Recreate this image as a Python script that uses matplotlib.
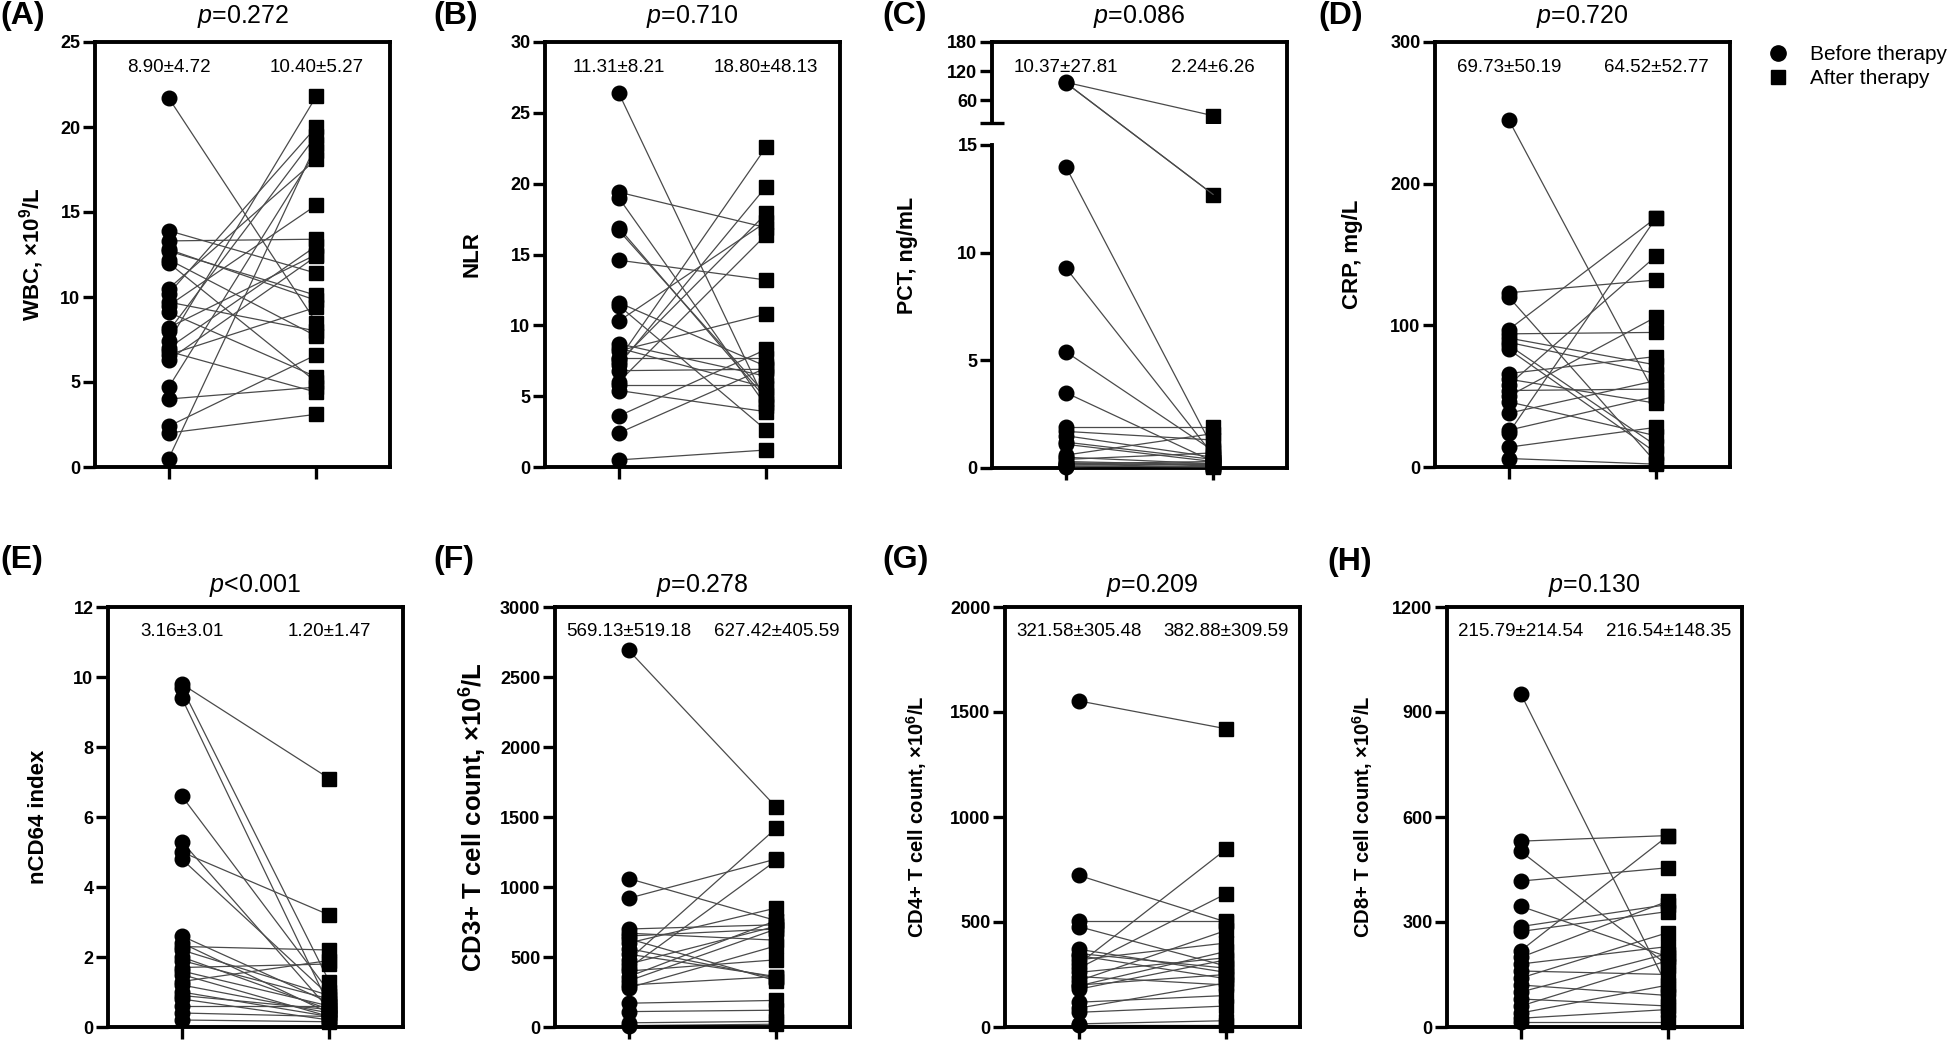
import matplotlib
matplotlib.use("Agg")
import matplotlib.pyplot as plt
from matplotlib.lines import Line2D
from matplotlib.patches import ConnectionPatch

plt.rcParams['font.family'] = ['Liberation Sans', 'DejaVu Sans']
plt.rcParams['mathtext.fontset'] = 'custom'
plt.rcParams['mathtext.rm'] = 'Liberation Sans'
plt.rcParams['mathtext.it'] = 'Liberation Sans:italic'
plt.rcParams['mathtext.bf'] = 'Liberation Sans:bold'

# ---- data ----
wbc_before = [21.7, 13.9, 13.3, 12.8, 12.7, 12.2, 12.0, 10.5, 10.2, 9.7, 9.5, 9.1,
              8.2, 8.0, 7.4, 7.0, 6.8, 6.6, 6.3, 4.7, 4.0, 2.4, 2.0, 0.5]
wbc_after = [8.5, 11.4, 13.4, 9.8, 10.1, 7.7, 5.0, 18.1, 20.0, 8.0, 15.4, 5.3,
             12.5, 19.5, 21.8, 13.0, 4.4, 9.4, 12.4, 18.6, 4.7, 6.6, 3.1, 19.0]

nlr_before = [26.4, 19.4, 19.0, 16.9, 16.7, 14.6, 11.6, 11.4, 10.3, 8.7, 8.4, 8.2,
              7.7, 7.6, 7.4, 7.2, 6.8, 6.0, 5.8, 5.4, 3.6, 2.4, 0.5]
nlr_after = [4.5, 16.9, 4.3, 4.8, 5.1, 13.2, 7.1, 2.6, 17.3, 6.4, 5.6, 10.8,
             7.7, 22.6, 17.9, 19.8, 6.9, 16.4, 5.8, 3.9, 8.3, 7.0, 1.2]

pct_before = [97, 96, 14.0, 9.3, 5.4, 3.5, 1.9, 1.7, 1.5, 1.2, 1.1, 0.6, 0.5, 0.4,
              0.3, 0.25, 0.2, 0.15, 0.1, 0.1, 0.05]
pct_after = [28, 12.7, 0.9, 0.6, 0.8, 0.3, 1.9, 1.3, 0.5, 0.4, 0.3, 1.6, 0.2, 0.7,
             0.15, 0.1, 0.3, 0.2, 0.1, 0.05, 0.2]

crp_before = [245, 123, 120, 97, 94, 91, 88, 86, 83, 66, 62, 58, 54, 50, 46, 38,
              26, 24, 14, 6]
crp_after = [50, 132, 3, 176, 95, 72, 66, 15, 10, 78, 45, 149, 55, 106, 22, 61,
             50, 176, 28, 2]

cd64_before = [9.8, 9.7, 9.4, 6.6, 5.3, 5.0, 4.8, 2.6, 2.4, 2.3, 2.2, 2.0, 1.9, 1.7,
               1.6, 1.5, 1.3, 1.2, 1.0, 0.9, 0.8, 0.6, 0.4, 0.2]
cd64_after = [7.1, 1.3, 0.6, 1.0, 0.5, 3.2, 0.9, 0.7, 0.4, 2.2, 0.9, 0.5, 0.8, 1.8,
              0.6, 0.3, 1.9, 0.4, 0.3, 0.5, 0.2, 0.6, 0.3, 0.15]

cd3_before = [2690, 1060, 920, 700, 670, 650, 630, 600, 560, 520, 480, 450, 420,
              400, 360, 330, 300, 280, 170, 110, 30, 10]
cd3_after = [1570, 760, 1200, 730, 620, 700, 330, 850, 350, 360, 1420, 720, 1190,
             480, 760, 700, 360, 580, 190, 120, 40, 20]

cd4_before = [1553, 722, 505, 478, 370, 340, 320, 300, 280, 260, 240, 220, 200,
              196, 118, 70, 15, 10, 350, 180, 90]
cd4_after = [1420, 500, 505, 290, 260, 230, 400, 847, 635, 330, 200, 460, 250,
             360, 150, 100, 30, 10, 280, 320, 210]

cd8_before = [952, 531, 502, 417, 345, 287, 273, 218, 199, 180, 160, 140, 120,
              100, 80, 60, 40, 25, 14]
cd8_after = [110, 547, 175, 455, 200, 350, 330, 547, 360, 230, 150, 270, 90,
             210, 60, 190, 120, 50, 14]

letters = ['(A)', '(B)', '(C)', '(D)', '(E)', '(F)', '(G)', '(H)']
p_texts = ['=0.272', '=0.710', '=0.086', '=0.720', '<0.001', '=0.278', '=0.209', '=0.130']
mean_texts = [('8.90±4.72', '10.40±5.27'), ('11.31±8.21', '18.80±48.13'),
              ('10.37±27.81', '2.24±6.26'), ('69.73±50.19', '64.52±52.77'),
              ('3.16±3.01', '1.20±1.47'), ('569.13±519.18', '627.42±405.59'),
              ('321.58±305.48', '382.88±309.59'), ('215.79±214.54', '216.54±148.35')]
ylabels = [r'WBC, ×10$^{\mathbf{9}}$/L', 'NLR', 'PCT, ng/mL', 'CRP, mg/L', 'nCD64 index',
           r'CD3+ T cell count, ×10$^{\mathbf{6}}$/L', r'CD4+ T cell count, ×10$^{\mathbf{6}}$/L',
           r'CD8+ T cell count, ×10$^{\mathbf{6}}$/L']

# ---- layout in pixels of the 1960x1048 canvas ----
W, H = 1960, 1048
SPINE_W = 2.8
LINE_C = '#4a4a4a'

fig = plt.figure(figsize=(W / 100, H / 100), dpi=100)


def px_axes(left, top, right, bottom):
    return fig.add_axes([left / W, 1 - bottom / H, (right - left) / W, (bottom - top) / H])


def style(ax, ylim, yticks):
    ax.set_xlim(-0.5, 1.5)
    ax.set_ylim(*ylim)
    ax.set_yticks(yticks)
    ax.set_xticks([0, 1])
    ax.set_xticklabels([])
    for s in ax.spines.values():
        s.set_linewidth(SPINE_W)
    ax.tick_params(axis='both', direction='out', length=8.5, width=2.4, labelsize=13, pad=2)
    for lab in ax.get_yticklabels():
        lab.set_fontweight('bold')


def draw_pairs(ax, before, after):
    for b, a in zip(before, after):
        ax.plot([0, 1], [b, a], color=LINE_C, lw=0.9, zorder=2)
    ax.plot([0] * len(before), before, 'o', color='black', ms=10.5, zorder=3, clip_on=False)
    ax.plot([1] * len(after), after, 's', color='black', ms=9.5, zorder=3, clip_on=False)


def annotate(ax, i, p_dy, label_dx, label_size=16):
    ax.text(0.5, 1 + p_dy, r'$p$' + p_texts[i], transform=ax.transAxes,
            ha='center', va='baseline', fontsize=18)
    ax.text(0.25, 0.93, mean_texts[i][0], transform=ax.transAxes,
            ha='center', va='baseline', fontsize=13.5)
    ax.text(0.75, 0.93, mean_texts[i][1], transform=ax.transAxes,
            ha='center', va='baseline', fontsize=13.5)
    ax.set_ylabel(ylabels[i], fontsize=label_size, fontweight='bold', va='center')
    ax.yaxis.set_label_coords(label_dx, 0.5)


top_lefts = [95, 545, 992, 1435]
bot_lefts = [108, 555, 1005, 1447]
PW = 295
letter_pos = [(0, 16), (433, 16), (882, 16), (1318, 16),
              (0, 560), (433, 560), (882, 560), (1327, 562)]

# ---- top row ----
axA = px_axes(top_lefts[0], 42, top_lefts[0] + PW, 467)
style(axA, (0, 25), [0, 5, 10, 15, 20, 25])
draw_pairs(axA, wbc_before, wbc_after)
annotate(axA, 0, 0.045, -0.214)

axB = px_axes(top_lefts[1], 42, top_lefts[1] + PW, 467)
style(axB, (0, 30), [0, 5, 10, 15, 20, 25, 30])
draw_pairs(axB, nlr_before, nlr_after)
annotate(axB, 1, 0.045, -0.247)

# panel C: broken y axis
cl = top_lefts[2]
frameC = px_axes(cl, 42, cl + PW, 468)
frameC.set_xlim(-0.5, 1.5)
frameC.set_xticks([])
frameC.set_yticks([])
frameC.spines['left'].set_visible(False)
for s in frameC.spines.values():
    s.set_linewidth(SPINE_W)
annotate(frameC, 2, 0.045, -0.285, label_size=15.5)

lowC = px_axes(cl, 145, cl + PW, 468)
style(lowC, (0, 15), [0, 5, 10, 15])
lowC.patch.set_visible(False)
for k in ['top', 'right', 'bottom']:
    lowC.spines[k].set_visible(False)
lowC.set_yticks([15], minor=True)
lowC.tick_params(axis='y', which='minor', direction='inout', length=17, width=2.4)

topC = px_axes(cl, 42, cl + PW, 123)
style(topC, (13, 180), [60, 120, 180])
topC.patch.set_visible(False)
for k in ['top', 'right', 'bottom']:
    topC.spines[k].set_visible(False)
topC.set_xticks([])
topC.set_yticks([13], minor=True)
topC.tick_params(axis='y', which='minor', direction='inout', length=17, width=2.4)

BREAK = 15
for b, a in zip(pct_before, pct_after):
    if b <= BREAK and a <= BREAK:
        lowC.plot([0, 1], [b, a], color=LINE_C, lw=0.9, zorder=2)
    elif b > BREAK and a > BREAK:
        topC.plot([0, 1], [b, a], color=LINE_C, lw=0.9, zorder=2)
    else:
        for host in (topC, lowC):
            con = ConnectionPatch(xyA=(0, b), coordsA=(topC if b > BREAK else lowC).transData,
                                  xyB=(1, a), coordsB=(topC if a > BREAK else lowC).transData,
                                  color=LINE_C, lw=0.9, zorder=2, annotation_clip=False)
            host.add_artist(con)
low_b = [v for v in pct_before if v <= BREAK]
low_a = [v for v in pct_after if v <= BREAK]
high_b = [v for v in pct_before if v > BREAK]
high_a = [v for v in pct_after if v > BREAK]
lowC.plot([0] * len(low_b), low_b, 'o', color='black', ms=10.5, zorder=3, clip_on=False)
lowC.plot([1] * len(low_a), low_a, 's', color='black', ms=9.5, zorder=3, clip_on=False)
topC.plot([0] * len(high_b), high_b, 'o', color='black', ms=10.5, zorder=3)
topC.plot([1] * len(high_a), high_a, 's', color='black', ms=9.5, zorder=3)

axD = px_axes(top_lefts[3], 42, top_lefts[3] + PW, 467)
style(axD, (0, 300), [0, 100, 200, 300])
draw_pairs(axD, crp_before, crp_after)
annotate(axD, 3, 0.045, -0.281)

# ---- bottom row ----
axE = px_axes(bot_lefts[0], 607, bot_lefts[0] + PW, 1027)
style(axE, (0, 12), [0, 2, 4, 6, 8, 10, 12])
draw_pairs(axE, cd64_before, cd64_after)
annotate(axE, 4, 0.036, -0.237)

axF = px_axes(bot_lefts[1], 607, bot_lefts[1] + PW, 1027)
style(axF, (0, 3000), [0, 500, 1000, 1500, 2000, 2500, 3000])
draw_pairs(axF, cd3_before, cd3_after)
annotate(axF, 5, 0.036, -0.278, label_size=18.5)

axG = px_axes(bot_lefts[2], 607, bot_lefts[2] + PW, 1027)
style(axG, (0, 2000), [0, 500, 1000, 1500, 2000])
draw_pairs(axG, cd4_before, cd4_after)
annotate(axG, 6, 0.036, -0.30, label_size=14.5)

axH = px_axes(bot_lefts[3], 607, bot_lefts[3] + PW, 1027)
style(axH, (0, 1200), [0, 300, 600, 900, 1200])
draw_pairs(axH, cd8_before, cd8_after)
annotate(axH, 7, 0.036, -0.285, label_size=14.5)

for (lx, ly), lab in zip(letter_pos, letters):
    fig.text(lx / W, 1 - ly / H, lab, ha='left', va='center', fontsize=23, fontweight='bold')

# ---- legend ----
handles = [Line2D([], [], marker='o', ls='none', color='black', ms=11),
           Line2D([], [], marker='s', ls='none', color='black', ms=10)]
fig.legend(handles, ['Before therapy', 'After therapy'], loc='upper left',
           bbox_to_anchor=(1768 / W, 1 - 45 / H), frameon=False, fontsize=15,
           handlelength=1.0, handletextpad=1.0, labelspacing=0.25,
           borderpad=0, borderaxespad=0)

fig.savefig('out.png', dpi=100)
